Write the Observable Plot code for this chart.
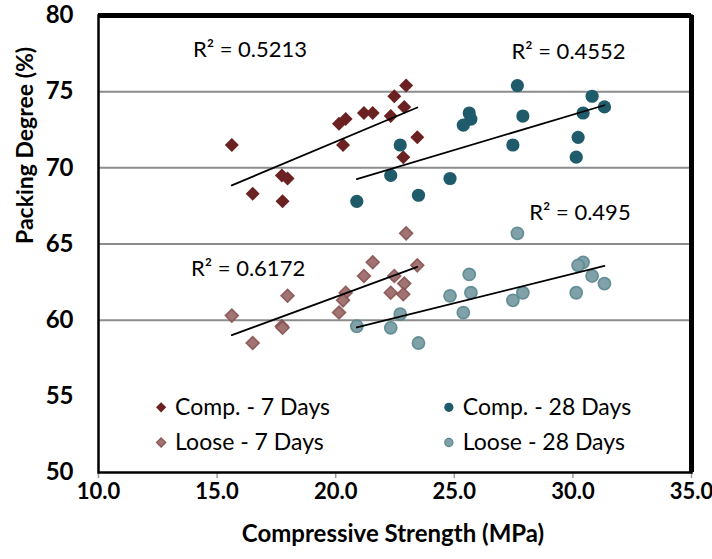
<!DOCTYPE html>
<html><head><meta charset="utf-8">
<script src="https://cdn.jsdelivr.net/npm/d3@7"></script>
<script src="https://cdn.jsdelivr.net/npm/@observablehq/plot@0.6"></script>
<style>body{margin:0;background:#fff}</style>
</head><body><div id="chart"></div>
<script>
// ---- data ----
const strength7 = [15.62, 16.50, 17.73, 17.97, 17.76, 20.14, 20.42, 20.31, 21.19, 21.56, 22.32, 22.47, 22.97, 22.89, 23.44, 22.85];
const comp7     = [71.5, 68.3, 69.5, 69.3, 67.8, 72.9, 73.2, 71.5, 73.6, 73.6, 73.4, 74.7, 75.4, 74.0, 72.0, 70.7];
const loose7    = [60.3, 58.5, 59.6, 61.6, 59.5, 60.5, 61.8, 61.3, 62.9, 63.8, 61.8, 62.9, 65.7, 62.4, 63.6, 61.7];
const strength28 = [22.72, 22.32, 20.89, 23.49, 27.66, 25.63, 25.70, 25.38, 27.89, 27.47, 24.82, 30.81, 31.33, 30.43, 30.22, 30.14];
const comp28     = [71.5, 69.5, 67.8, 68.2, 75.4, 73.6, 73.2, 72.8, 73.4, 71.5, 69.3, 74.7, 74.0, 73.6, 72.0, 70.7];
const loose28    = [60.4, 59.5, 59.6, 58.5, 65.7, 63.0, 61.8, 60.5, 61.8, 61.3, 61.6, 62.9, 62.4, 63.8, 63.6, 61.8];
const seriesNames = ["Comp. - 7 Days", "Comp. - 28 Days", "Loose - 7 Days", "Loose - 28 Days"];
const r2Labels = ["R\u00b2 = 0.5213", "R\u00b2 = 0.4552", "R\u00b2 = 0.6172", "R\u00b2 = 0.495"];
const xTicks = [10, 15, 20, 25, 30, 35];
const yTicks = [50, 55, 60, 65, 70, 75, 80];
const gridValues = [60, 65, 70, 75];

// ---- layout (annotation anchors, in data units) ----
const r2Pos = [[13.98, 77.76], [27.41, 77.63], [13.90, 63.36], [28.16, 67.04]];
const legendPos = [[12.64, 54.28], [24.77, 54.28], [12.64, 51.97], [24.77, 51.97]];
const legendTextDx = 14;

const styles = [
  {symbol: "diamond2", fill: "#6B2121", stroke: "none", r: 6.3, lr: 4.6},
  {symbol: "circle", fill: "#1F5B6A", stroke: "none", r: 6.6, lr: 4.6},
  {symbol: "diamond2", fill: "#A27373", stroke: "#875454", r: 5.8, lr: 4.2},
  {symbol: "circle", fill: "#7FA1A7", stroke: "#5A8790", r: 6.1, lr: 4.1}
];

const toRows = (xs, ys) => xs.map((x, i) => ({x, y: ys[i]}));
const series = [toRows(strength7, comp7), toRows(strength28, comp28), toRows(strength7, loose7), toRows(strength28, loose28)];

const dotMarks = series.map((rows, i) => Plot.dot(rows, {
  x: "x", y: "y", symbol: styles[i].symbol, r: styles[i].r,
  fill: styles[i].fill, stroke: styles[i].stroke, strokeWidth: 1.6, strokeOpacity: 0.9
}));
const regMarks = series.map(rows => Plot.linearRegressionY(rows, {x: "x", y: "y", ci: 0, stroke: "black", strokeWidth: 1.8}));

const r2Rows = r2Labels.map((t, i) => ({t, x: r2Pos[i][0], y: r2Pos[i][1]}));
const legRows = seriesNames.map((t, i) => ({t, x: legendPos[i][0], y: legendPos[i][1]}));
const legDots = legRows.map((row, i) => Plot.dot([row], {
  x: "x", y: "y", symbol: styles[i].symbol, r: styles[i].lr,
  fill: styles[i].fill, stroke: styles[i].stroke, strokeWidth: 1.2
}));

const chart = Plot.plot({
  width: 712, height: 559,
  marginLeft: 98, marginRight: 21, marginTop: 15, marginBottom: 87,
  style: {fontFamily: "Lato, 'Open Sans', sans-serif", fontSize: "20px", background: "#fff", color: "#000", overflow: "visible"},
  x: {domain: [10, 35]},
  y: {domain: [50, 80]},
  marks: [
    Plot.ruleY(gridValues, {stroke: "#8c8c8c", strokeWidth: 2}),
    Plot.axisX({ticks: xTicks, tickFormat: d => d.toFixed(1), tickSize: 6, stroke: "#9a9a9a", strokeWidth: 1.5, tickPadding: 5, fontWeight: "bold", fontSize: 22, label: null}),
    Plot.axisY({ticks: yTicks, tickSize: 0, tickPadding: 25, fontWeight: "bold", fontSize: 24, label: null}),
    Plot.text(["Compressive Strength (MPa)"], {frameAnchor: "bottom", dy: 69, dx: -2, fontWeight: "bold", fontSize: 24}),
    Plot.text(["Packing Degree (%)"], {frameAnchor: "left", dx: -73, rotate: -90, fontWeight: "bold", fontSize: 23}),
    ...dotMarks,
    ...regMarks,
    Plot.text(r2Rows, {x: "x", y: "y", text: "t", textAnchor: "start", fontSize: 22}),
    ...legDots,
    Plot.text(legRows, {x: "x", y: "y", text: "t", textAnchor: "start", dx: legendTextDx, fontSize: 23}),
    Plot.frame({stroke: "#000", strokeWidth: 2.5}),
    Plot.ruleY([80], {stroke: "#000", strokeWidth: 5}),
    Plot.ruleX([35], {stroke: "#000", strokeWidth: 5})
  ]
});
document.getElementById("chart").appendChild(chart);
</script>
</body></html>
